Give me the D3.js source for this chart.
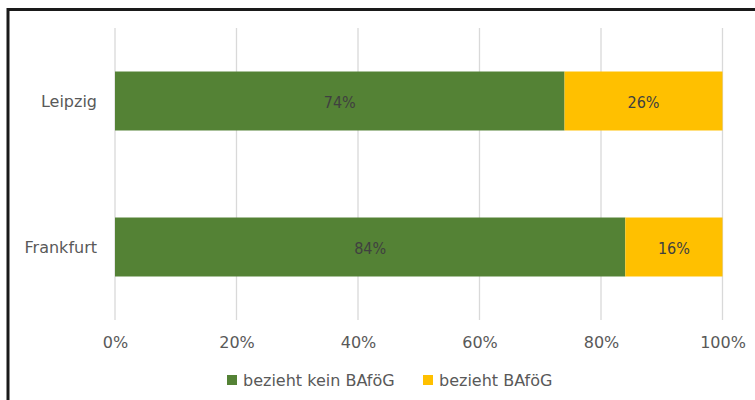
<!DOCTYPE html>
<html><head><meta charset="utf-8">
<script src="https://cdn.jsdelivr.net/npm/d3@7"></script>
<style>body{margin:0;background:#fff;}svg{display:block;font-family:"DejaVu Sans",sans-serif;}</style>
</head><body>
<svg id="c" width="755" height="400"></svg>
<script>
const categories = ["Leipzig", "Frankfurt"];
const seriesNames = ["bezieht kein BAföG", "bezieht BAföG"];
const keinBafoeg = [0.74, 0.84];
const bafoeg = [0.26, 0.16];
const tickValues = [0, 0.2, 0.4, 0.6, 0.8, 1.0];
const colors = ["#548235", "#FFC000"];

const svg = d3.select("#c");
// frame (top & left visible)
svg.append("rect").attr("x", 8).attr("y", 9.5).attr("width", 800).attr("height", 420)
  .attr("fill", "none").attr("stroke", "#1a1a1a").attr("stroke-width", 3);

const x = d3.scaleLinear().domain([0, 1]).range([115, 722.5]);
const y = d3.scaleBand().domain(categories).range([28, 320]).padding(0);
const barH = y.bandwidth() * 0.404;

// gridlines
svg.append("g").selectAll("line").data(tickValues).join("line")
  .attr("x1", d => x(d)).attr("x2", d => x(d)).attr("y1", 28).attr("y2", 320)
  .attr("stroke", "#d9d9d9").attr("stroke-width", 1.3);

const stackData = categories.map((c, i) => ({cat: c, a: keinBafoeg[i], b: bafoeg[i]}));
const stack = d3.stack().keys(["a", "b"])(stackData);

stack.forEach((layer, li) => {
  const g = svg.append("g");
  g.selectAll("rect").data(layer).join("rect")
    .attr("x", d => x(d[0])).attr("width", d => x(d[1]) - x(d[0]))
    .attr("y", d => y(d.data.cat) + (y.bandwidth() - barH) / 2).attr("height", barH)
    .attr("fill", colors[li]);
  g.selectAll("text").data(layer).join("text")
    .attr("x", d => (x(d[0]) + x(d[1])) / 2)
    .attr("y", d => y(d.data.cat) + y.bandwidth() / 2 + 1.5)
    .attr("dy", "0.35em").attr("text-anchor", "middle")
    .attr("font-family", "'DejaVu Sans Condensed','DejaVu Sans',sans-serif")
    .attr("font-size", 16).attr("fill", "#404040")
    .text(d => Math.round((d[1] - d[0]) * 100) + "%");
});

// category axis labels
svg.append("g").selectAll("text").data(categories).join("text")
  .attr("x", 97).attr("y", d => y(d) + y.bandwidth() / 2).attr("dy", "0.35em")
  .attr("text-anchor", "end").attr("font-size", 16).attr("fill", "#595959").text(d => d);

// x axis tick labels
const xAxis = d3.axisBottom(x).tickValues(tickValues).tickFormat(d3.format(".0%")).tickSize(0).tickPadding(0);
const ax = svg.append("g").attr("transform", "translate(0,337)").call(xAxis);
ax.select(".domain").remove();
ax.selectAll("text").attr("font-size", 16).attr("fill", "#595959").attr("font-family", "'DejaVu Sans',sans-serif");

// legend
const legX = [227, 423];
const leg = svg.append("g").selectAll("g").data(seriesNames).join("g")
  .attr("transform", (d, i) => `translate(${legX[i]},375)`);
leg.append("rect").attr("width", 10).attr("height", 10).attr("fill", (d, i) => colors[i]);
leg.append("text").attr("x", 16).attr("y", 5).attr("dy", "0.35em")
  .attr("font-size", 16).attr("fill", "#595959").text(d => d);
</script>
</body></html>
